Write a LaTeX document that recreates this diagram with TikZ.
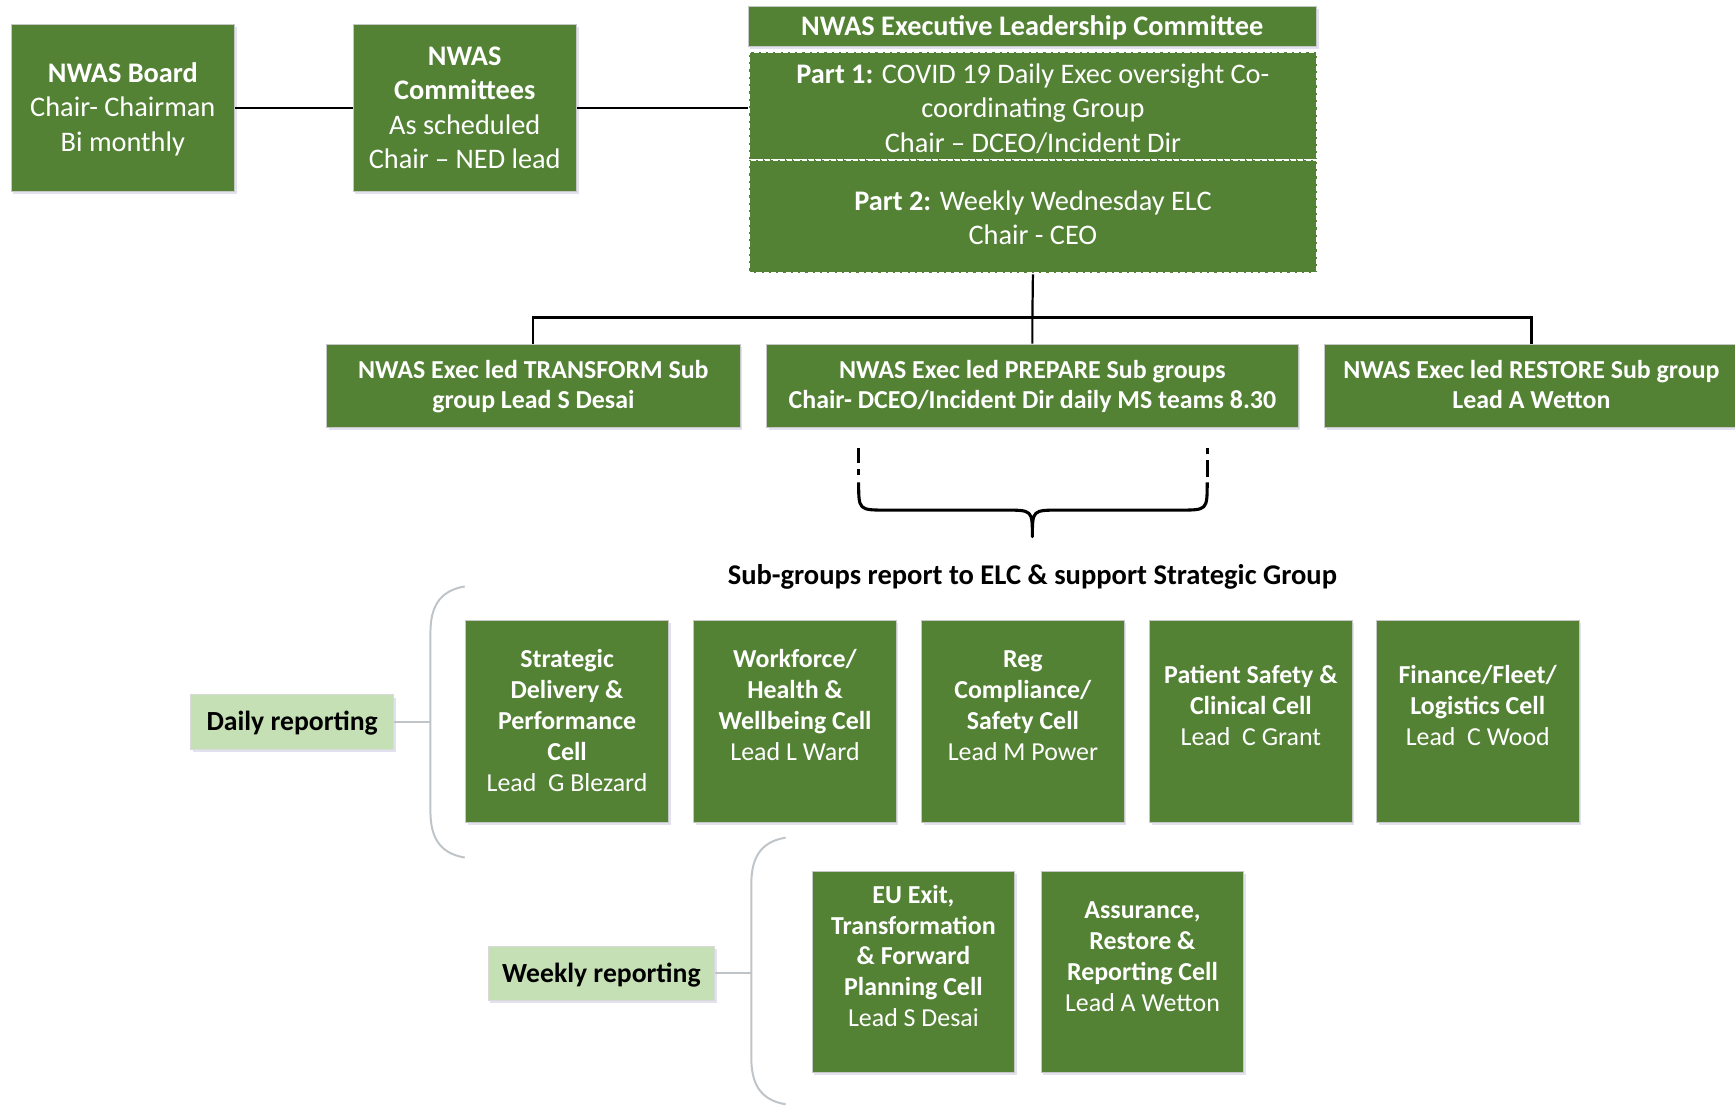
\documentclass[tikz,border=0pt]{standalone}
\usepackage{fontspec}
\setmainfont{Carlito}
\usetikzlibrary{shadows}
\definecolor{dg}{HTML}{548235}
\definecolor{lg}{HTML}{C5E0B4}
\definecolor{brk}{HTML}{BFC4C8}
\newcommand{\tx}[2][1pt]{\raisebox{-#1}[\height][\depth]{\begin{tabular}{@{}c@{}}#2\end{tabular}}}
\begin{document}
\begin{tikzpicture}[x=0.5pt,y=-0.5pt,
  shad/.style={drop shadow={shadow xshift=1pt,shadow yshift=-1.2pt,opacity=0.3,fill=blue!25!gray!60}},
  gbox/.style={rectangle,fill=dg,draw=black!22,line width=0.4pt,text=white,align=center,inner sep=0pt,shad},
  topbox/.style={gbox,minimum width=101pt,minimum height=75.5pt,font=\fontsize{12.8}{15.5}\selectfont},
  partbox/.style={rectangle,fill=dg,draw=white,dash pattern=on 2.3pt off 1pt,line width=0.9pt,text=white,align=center,inner sep=0pt,minimum width=256.5pt,font=\fontsize{12.8}{15.5}\selectfont},
  subbox/.style={gbox,minimum height=37.5pt,font=\fontsize{11.7}{13.5}\selectfont\bfseries},
  cell/.style={gbox,minimum width=91.5pt,minimum height=91pt,font=\fontsize{11.7}{14}\selectfont},
  tag/.style={rectangle,fill=lg,draw=black!15,line width=0.4pt,text=black,inner sep=0pt,minimum height=24.5pt,font=\fontsize{12.5}{15}\selectfont\bfseries,shad},
  conn/.style={draw=black,line width=1pt},
  brace/.style={draw=black,line width=1.4pt},
  gconn/.style={draw=brk,line width=0.9pt}
]
\useasboundingbox (0,0) rectangle (1568,999);

% top row
\node[topbox] (board) at (111,97.5) {\tx{\textbf{NWAS Board}\\Chair- Chairman\\Bi monthly}};
\node[topbox] (comm) at (420,97.5) {\tx{\textbf{NWAS}\\\textbf{Committees}\\As scheduled\\Chair -- NED lead}};
\node[gbox,minimum width=257pt,minimum height=18pt,font=\fontsize{12.8}{15.5}\selectfont\bfseries] (elc) at (933,24) {\tx{NWAS Executive Leadership Committee}};
\node[partbox,minimum height=49pt] (part1) at (933.5,96) {\tx[2.2pt]{\textbf{Part 1:} COVID 19 Daily Exec oversight Co-\\coordinating Group\\Chair -- DCEO/Incident Dir}};
\node[partbox,minimum height=51pt] (part2) at (933.5,196) {\tx[1.8pt]{\textbf{Part 2:} Weekly Wednesday ELC\\Chair - CEO}};

\draw[conn] (board.east) -- (comm.west);
\draw[conn] (comm.east) -- (comm.east -| part1.west);

% sub groups
\node[subbox,minimum width=187pt] (transform) at (482,348.5) {\tx{NWAS Exec led TRANSFORM Sub\\group Lead S Desai}};
\node[subbox,minimum width=240pt] (prepare) at (933,348.5) {\tx{NWAS Exec led PREPARE Sub groups\\Chair- DCEO/Incident Dir daily MS teams 8.30}};
\node[subbox,minimum width=187pt] (restore) at (1384,348.5) {\tx{NWAS Exec led RESTORE Sub group\\Lead A Wetton}};

\coordinate (bus) at (933,287);
\draw[conn] (part2.south) -- (bus) -- (prepare.north);
\draw[conn] (transform.north) |- (bus) -| (restore.north);

% brace
\draw[brace] (776,405) -- (776,418) (776,424) -- (776,429);
\draw[brace] (1091,405) -- (1091,410) (1091,416) -- (1091,431);
\draw[brace,line join=round] (776,436) .. controls (776,461) .. (801,461) -- (908,461)
  .. controls (933,461) .. (933,485) .. controls (933,461) .. (958,461) -- (1066,461)
  .. controls (1091,461) .. (1091,436);
\node[font=\fontsize{12.9}{15}\selectfont\bfseries] (report) at (933,521) {Sub-groups report to ELC \& support Strategic Group};

% daily reporting
\node[tag,minimum width=92pt] (daily) at (264,652.5) {\tx{Daily reporting}};
\coordinate (dbr) at (389,652.5);
\draw[gconn] (daily.east) -- (dbr);
\draw[gconn] (420,530) .. controls (396,534) and (389,550) .. (389,572) -- (dbr) -- (389,733) .. controls (389,755) and (396,771) .. (420,775);

\node[cell] (c1) at (512.5,652) {\tx{\textbf{Strategic}\\\textbf{Delivery \&}\\\textbf{Performance}\\\textbf{Cell}\\Lead\ \ G Blezard}};
\node[cell] (c2) at (718.5,652) {\tx{\textbf{Workforce/}\\\textbf{Health \&}\\\textbf{Wellbeing Cell}\\Lead L Ward\\\mbox{}}};
\node[cell] (c3) at (924.5,652) {\tx{\textbf{Reg}\\\textbf{Compliance/}\\\textbf{Safety Cell}\\Lead M Power\\\mbox{}}};
\node[cell] (c4) at (1130.5,652) {\tx{\textbf{Patient Safety \&}\\\textbf{Clinical Cell}\\Lead\ \ C Grant\\\mbox{}}};
\node[cell] (c5) at (1335.5,652) {\tx{\textbf{Finance/Fleet/}\\\textbf{Logistics Cell}\\Lead\ \ C Wood\\\mbox{}}};

% weekly reporting
\node[tag,minimum width=102.5pt] (weekly) at (543.5,879.5) {\tx{Weekly reporting}};
\coordinate (wbr) at (679,879.5);
\draw[gconn] (weekly.east) -- (wbr);
\draw[gconn] (710,757) .. controls (686,761) and (679,777) .. (679,799) -- (wbr) -- (679,956) .. controls (679,978) and (686,994) .. (710,998);

\node[cell] (w1) at (825.5,878.5) {\tx{\textbf{EU Exit,}\\\textbf{Transformation}\\\textbf{\& Forward}\\\textbf{Planning Cell}\\Lead S Desai\\\mbox{}}};
\node[cell] (w2) at (1032.5,878.5) {\tx{\textbf{Assurance,}\\\textbf{Restore \&}\\\textbf{Reporting Cell}\\Lead A Wetton\\\mbox{}}};
\end{tikzpicture}
\end{document}
